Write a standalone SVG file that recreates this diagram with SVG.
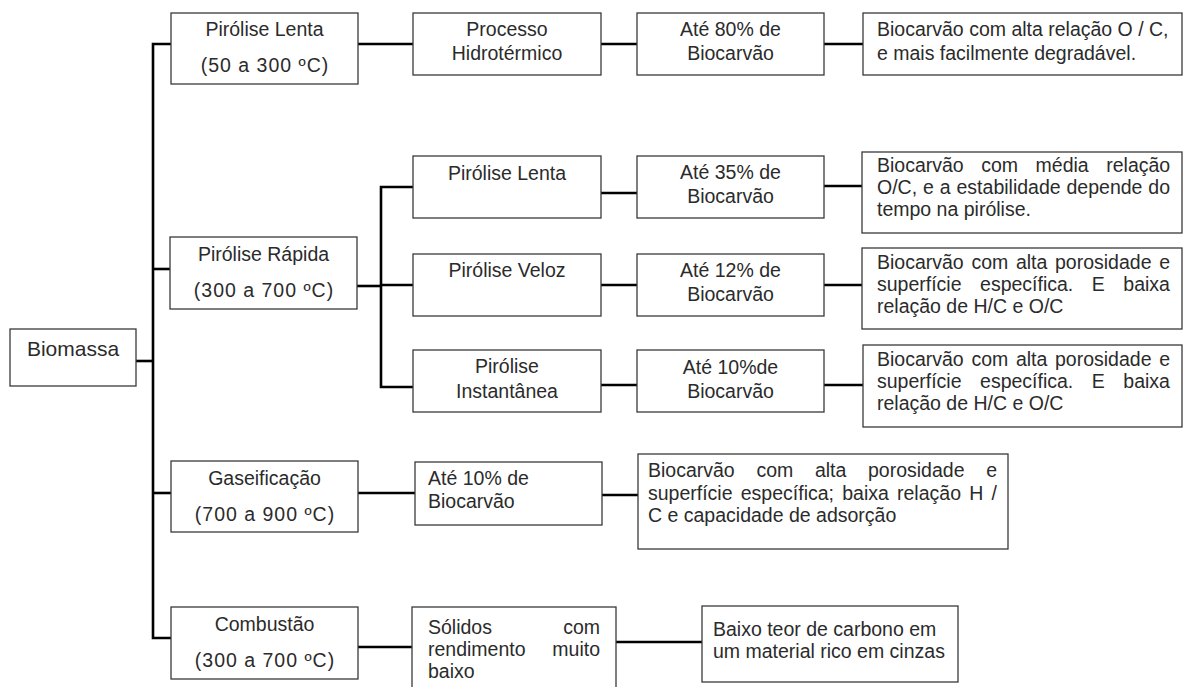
<svg xmlns="http://www.w3.org/2000/svg" width="1183" height="687" viewBox="0 0 1183 687">
<style>
.box{fill:#fff;stroke:#3a3a3a;stroke-width:1.3}
.t{font-family:"Liberation Sans",Arial,sans-serif;font-size:19.5px;fill:#2b2b2b}
.c{text-anchor:middle}
.ls{letter-spacing:1px}
.con{stroke:#000;stroke-width:2.6;fill:none}
</style>
<rect width="1183" height="687" fill="#fff"/>
<g id="connectors" class="con">
<path d="M171,44H153V638H171"/>
<path d="M153,269H170"/>
<path d="M136,361H153"/>
<path d="M153,493H171"/>
<path d="M358,44H413M601,44H637M824,44H863"/>
<path d="M357,286H381"/>
<path d="M413,187H381V387H413M381,285H413"/>
<path d="M601,193H637M601,285H637M601,385H637"/>
<path d="M824,186H862M824,285H862M824,385H863"/>
<path d="M358,493H415M602,495H638"/>
<path d="M358,647H412M616,642H702"/>
</g>
<g id="biomassa"><rect class="box" x="10" y="329" width="126" height="57"/><text class="t c" x="73" y="356" style="font-size:21px">Biomassa</text></g>
<g id="pirolise-lenta"><rect class="box" x="171" y="13" width="187" height="71"/><text class="t c" x="264.5" y="36">Pirólise Lenta</text><text class="t c ls" x="265" y="72">(50 a 300 ºC)</text></g>
<g id="processo"><rect class="box" x="413" y="13" width="188" height="62"/><text class="t c" x="507" y="36">Processo</text><text class="t c" x="507" y="60">Hidrotérmico</text></g>
<g id="ate80"><rect class="box" x="637" y="13" width="187" height="62"/><text class="t c" x="730.5" y="36">Até 80% de</text><text class="t c" x="730.5" y="60">Biocarvão</text></g>
<g id="res1"><rect class="box" x="863" y="13" width="319" height="62"/><text class="t" x="877" y="36">Biocarvão com alta relação O / C,</text><text class="t" x="877" y="60">e mais facilmente degradável.</text></g>
<g id="pirolise-rapida"><rect class="box" x="170" y="237" width="187" height="72"/><text class="t c" x="263.5" y="261">Pirólise Rápida</text><text class="t c ls" x="264" y="297">(300 a 700 ºC)</text></g>
<g id="sub-lenta"><rect class="box" x="413" y="156" width="188" height="62"/><text class="t c" x="507" y="180">Pirólise Lenta</text></g>
<g id="ate35"><rect class="box" x="637" y="156" width="187" height="62"/><text class="t c" x="730.5" y="179">Até 35% de</text><text class="t c" x="730.5" y="203">Biocarvão</text></g>
<g id="res2"><rect class="box" x="862" y="152" width="320" height="81"/><text class="t" x="877" y="172" word-spacing="12.1">Biocarvão com média relação</text><text class="t" x="877" y="194" word-spacing="0.5">O/C, e a estabilidade depende do</text><text class="t" x="877" y="216">tempo na pirólise.</text></g>
<g id="veloz"><rect class="box" x="413" y="254" width="188" height="62"/><text class="t c" x="507" y="277">Pirólise Veloz</text></g>
<g id="ate12"><rect class="box" x="637" y="254" width="187" height="62"/><text class="t c" x="730.5" y="277">Até 12% de</text><text class="t c" x="730.5" y="301">Biocarvão</text></g>
<g id="res3"><rect class="box" x="862" y="248" width="320" height="81"/><text class="t" x="877" y="269" word-spacing="2.25">Biocarvão com alta porosidade e</text><text class="t" x="877" y="291" word-spacing="13.1">superfície específica. E baixa</text><text class="t" x="877" y="313">relação de H/C e O/C</text></g>
<g id="instantanea"><rect class="box" x="413" y="350" width="188" height="62"/><text class="t c" x="507" y="373">Pirólise</text><text class="t c" x="507" y="398">Instantânea</text></g>
<g id="ate10a"><rect class="box" x="637" y="350" width="187" height="62"/><text class="t c" x="730.5" y="374">Até 10%de</text><text class="t c" x="730.5" y="398">Biocarvão</text></g>
<g id="res4"><rect class="box" x="863" y="345" width="319" height="82"/><text class="t" x="877" y="366" word-spacing="2.25">Biocarvão com alta porosidade e</text><text class="t" x="877" y="388" word-spacing="13.1">superfície específica. E baixa</text><text class="t" x="877" y="410">relação de H/C e O/C</text></g>
<g id="gaseificacao"><rect class="box" x="171" y="461" width="187" height="71"/><text class="t c" x="264.5" y="485">Gaseificação</text><text class="t c ls" x="265" y="521">(700 a 900 ºC)</text></g>
<g id="ate10b"><rect class="box" x="415" y="462" width="187" height="63"/><text class="t" x="428" y="485">Até 10% de</text><text class="t" x="428" y="508">Biocarvão</text></g>
<g id="res5"><rect class="box" x="638" y="454" width="370" height="95"/><text class="t" x="648" y="477" word-spacing="16.25">Biocarvão com alta porosidade e</text><text class="t" x="648" y="500" word-spacing="2.8">superfície específica; baixa relação H /</text><text class="t" x="648" y="522">C e capacidade de adsorção</text></g>
<g id="combustao"><rect class="box" x="171" y="607" width="187" height="72"/><text class="t c" x="264.5" y="631">Combustão</text><text class="t c ls" x="265" y="667">(300 a 700 ºC)</text></g>
<g id="solidos"><rect class="box" x="412" y="607" width="204" height="90"/><text class="t" x="428" y="634" word-spacing="65.9">Sólidos com</text><text class="t" x="428" y="656" word-spacing="21.4">rendimento muito</text><text class="t" x="428" y="678">baixo</text></g>
<g id="res6"><rect class="box" x="702" y="606" width="256" height="76"/><text class="t" x="713" y="636">Baixo teor de carbono em</text><text class="t" x="713" y="658">um material rico em cinzas</text></g>
</svg>
